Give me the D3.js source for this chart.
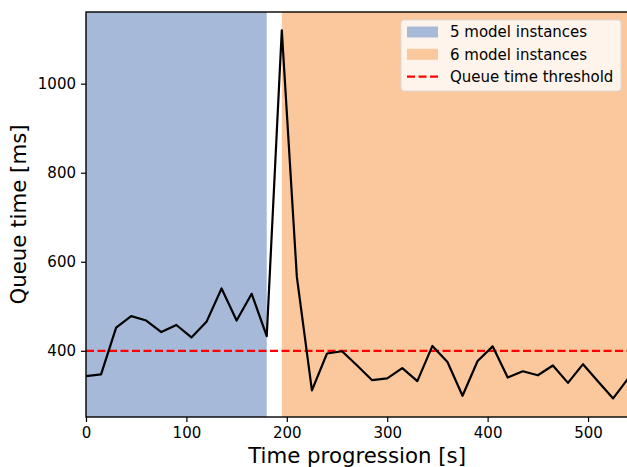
<!DOCTYPE html>
<html>
<head>
<meta charset="utf-8">
<script src="https://cdn.jsdelivr.net/npm/d3@7"></script>
<style>
  html, body { margin: 0; padding: 0; background: #fff; }
  svg { display: block; font-family: "DejaVu Sans", sans-serif; }
</style>
</head>
<body>
<svg id="chart" width="627" height="467"></svg>
<script>
// Sampling times (s), one sample every 15 s
const times = [0, 15, 30, 45, 60, 75, 90, 105, 120, 135, 150, 165, 180,
  195, 210, 225, 240, 255, 270, 285, 300, 315, 330, 345, 360, 375, 390,
  405, 420, 435, 450, 465, 480, 495, 510, 525, 540];
// Measured queue time (ms)
const queueTimes = [343, 347, 452, 478, 468, 442, 458, 430, 465, 540, 468, 528, 433,
  1120, 566, 311, 394, 399, 367, 334, 338, 361, 332, 411, 375, 299, 377,
  410, 340, 354, 345, 367, 328, 370, 331, 293, 338];
// Periods with a fixed number of model instances: [start, end]
const phaseNames = ["5 model instances", "6 model instances"];
const phaseRanges = [[0, 180], [195, 540]];
const phaseColors = ["#a6b9d9", "#fac89c"];
const thresholdLabel = "Queue time threshold";
const threshold = 400;
const xTicks = [0, 100, 200, 300, 400, 500];
const yTicks = [400, 600, 800, 1000];

const svg = d3.select("#chart");
const plotLeft = 86, plotRight = 628.2, plotTop = 12, plotBottom = 417;
const tickFont = "15px", titleFont = "21.3px";

const x = d3.scaleLinear().domain([0, 540]).range([plotLeft, plotRight]);
const y = d3.scaleLinear().domain([251.3, 1161]).range([plotBottom, plotTop]);

// Shaded phases
svg.append("g").selectAll("rect")
  .data(phaseRanges)
  .join("rect")
  .attr("x", d => x(d[0]))
  .attr("width", d => x(d[1]) - x(d[0]))
  .attr("y", plotTop)
  .attr("height", plotBottom - plotTop)
  .attr("fill", (d, i) => phaseColors[i]);

// Threshold line
svg.append("line")
  .attr("x1", plotLeft).attr("x2", plotRight)
  .attr("y1", y(threshold)).attr("y2", y(threshold))
  .attr("stroke", "#ff0000")
  .attr("stroke-width", 2.2)
  .attr("stroke-dasharray", "8,3.5");

// Queue time series
const line = d3.line().x((d, i) => x(times[i])).y(d => y(d));
svg.append("path")
  .datum(queueTimes)
  .attr("d", line)
  .attr("fill", "none")
  .attr("stroke", "#000")
  .attr("stroke-width", 2.2)
  .attr("stroke-linejoin", "round");

// Axes
const xAxis = svg.append("g")
  .attr("transform", `translate(0,${plotBottom})`)
  .call(d3.axisBottom(x).tickValues(xTicks).tickFormat(d3.format("d"))
    .tickSize(5).tickPadding(5).tickSizeOuter(0));
const yAxis = svg.append("g")
  .attr("transform", `translate(${plotLeft},0)`)
  .call(d3.axisLeft(y).tickValues(yTicks).tickFormat(d3.format("d"))
    .tickSize(5).tickPadding(5).tickSizeOuter(0));
[xAxis, yAxis].forEach(g => {
  g.select(".domain").remove();
  g.selectAll(".tick line").attr("stroke", "#000").attr("stroke-width", 1.2);
  g.selectAll(".tick text")
    .attr("fill", "#000")
    .style("font-family", "DejaVu Sans")
    .style("font-size", tickFont);
});

// Frame
svg.append("rect")
  .attr("x", plotLeft).attr("y", plotTop)
  .attr("width", plotRight - plotLeft).attr("height", plotBottom - plotTop)
  .attr("fill", "none")
  .attr("stroke", "#000")
  .attr("stroke-width", 1.4);

// Axis titles
svg.append("text")
  .attr("x", (plotLeft + plotRight) / 2).attr("y", 463)
  .attr("text-anchor", "middle")
  .style("font-size", titleFont)
  .text("Time progression [s]");
svg.append("text")
  .attr("transform", `translate(26,${(plotTop + plotBottom) / 2}) rotate(-90)`)
  .attr("text-anchor", "middle")
  .style("font-size", titleFont)
  .text("Queue time [ms]");

// Legend
const legend = svg.append("g").attr("transform", "translate(401,20)");
legend.append("rect")
  .attr("width", 220).attr("height", 71)
  .attr("rx", 3)
  .attr("fill", "#fff").attr("fill-opacity", 0.8)
  .attr("stroke", "#d9d9d9").attr("stroke-width", 1);
const entries = [
  { label: phaseNames[0], type: "patch", color: phaseColors[0] },
  { label: phaseNames[1], type: "patch", color: phaseColors[1] },
  { label: thresholdLabel, type: "dash", color: "#ff0000" }
];
const rows = legend.selectAll("g.entry")
  .data(entries)
  .join("g")
  .attr("class", "entry")
  .attr("transform", (d, i) => `translate(0,${12 + i * 22.3})`);
rows.filter(d => d.type === "patch").append("rect")
  .attr("x", 6).attr("y", -5.5)
  .attr("width", 31).attr("height", 11)
  .attr("fill", d => d.color);
rows.filter(d => d.type === "dash").append("line")
  .attr("x1", 6).attr("x2", 37).attr("y1", 0).attr("y2", 0)
  .attr("stroke", d => d.color)
  .attr("stroke-width", 2.2)
  .attr("stroke-dasharray", "8,3.5");
rows.append("text")
  .attr("x", 49).attr("y", 5.3)
  .style("font-size", tickFont)
  .text(d => d.label);
</script>
</body>
</html>
